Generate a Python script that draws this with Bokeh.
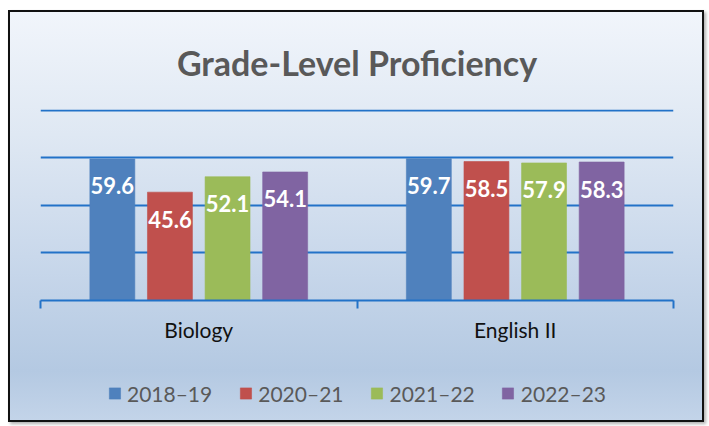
from bokeh.plotting import figure
from bokeh.models import (Range1d, LinearAxis, FixedTicker, ColumnDataSource, LabelSet,
                          Legend, LegendItem, Grid)
from bokeh.core.properties import value
from bokeh.transform import dodge
from bokeh.embed import file_html
from bokeh.resources import INLINE

# ---- data ----
subjects = ["Biology", "English II"]
years = ["2018–19", "2020–21", "2021–22", "2022–23"]
v_2018_19 = [59.6, 59.7]
v_2020_21 = [45.6, 58.5]
v_2021_22 = [52.1, 57.9]
v_2022_23 = [54.1, 58.3]
grid_ticks = [20, 40, 60, 80]

series = [v_2018_19, v_2020_21, v_2021_22, v_2022_23]
colors = ["#4f81bd", "#c0504d", "#9bbb59", "#8064a2"]
offsets = [-0.273, -0.091, 0.091, 0.273]
bar_width = 0.142
blue_line = "#2272c8"
FONT = "Lato"

centers = [i + 0.5 for i in range(len(subjects))]
data = {"pos": centers}
for i, s in enumerate(series):
    data[f"s{i}"] = s
    data[f"t{i}"] = [f"{v:.1f}" for v in s]
src = ColumnDataSource(data)

p = figure(x_range=Range1d(0, len(subjects)), y_range=Range1d(0, 80.4),
           frame_width=633, frame_height=191, output_backend="svg", toolbar_location=None,
           x_axis_location=None, y_axis_location=None,
           min_border_left=30, min_border_right=33, min_border_top=96, min_border_bottom=125)
for g in list(p.center):
    if isinstance(g, Grid):
        g.visible = False
p.background_fill_color = None
p.border_fill_color = None
p.outline_line_color = None
p.styles = {
    "margin-left": "8px",
    "margin-top": "10px",
    "width": "696px",
    "height": "412px",
    "box-sizing": "border-box",
    "overflow": "hidden",
    "background-image": "linear-gradient(to bottom, #f1f5fb 0%, #dfe8f3 30%, #c9d8eb 60%, #b4c9e2 88%, #c3d4e9 100%)",
    "border": "2px solid #111111",
    "box-shadow": "2px 2px 3px #b0b0b0",
}

p.title.text = "Grade-Level Proficiency"
p.title.align = "center"
p.title.text_font = FONT
p.title.text_font_size = "34px"
p.title.text_font_style = "bold"
p.title.text_color = "#595959"
p.title.standoff = 54

grid = Grid(dimension=1, ticker=FixedTicker(ticks=grid_ticks),
            grid_line_color=blue_line, grid_line_width=2)
p.add_layout(grid)

items = []
for i, name in enumerate(years):
    r = p.vbar(x=dodge("pos", offsets[i]), top=f"s{i}", width=bar_width,
               source=src, fill_color=colors[i], line_color=colors[i], line_alpha=0.6)
    items.append(LegendItem(label=name, renderers=[r]))
    labels = LabelSet(x=dodge("pos", offsets[i]), y=f"s{i}", text=f"t{i}",
                      source=src, text_align="center", text_baseline="middle", y_offset=-27,
                      text_color="white", text_font=value(FONT), text_font_style="bold",
                      text_font_size="22px")
    p.add_layout(labels)

edge_axis = LinearAxis(ticker=FixedTicker(ticks=list(range(len(subjects) + 1))),
                       major_label_overrides={t: "" for t in range(len(subjects) + 1)},
                       axis_line_color=blue_line, axis_line_width=2,
                       major_tick_line_color=blue_line, major_tick_line_width=2,
                       major_tick_in=0, major_tick_out=8, minor_tick_line_color=None,
                       major_label_text_font_size="1px", major_label_standoff=0)
p.add_layout(edge_axis, "below")

cat_axis = LinearAxis(ticker=FixedTicker(ticks=centers),
                      major_label_overrides={c: s for c, s in zip(centers, subjects)},
                      axis_line_color=None, major_tick_line_color=None, minor_tick_line_color=None,
                      major_tick_in=0, major_tick_out=0,
                      major_label_text_font=FONT, major_label_text_font_size="21px",
                      major_label_text_color="#111111", major_label_standoff=8)
p.add_layout(cat_axis, "below")

legend = Legend(items=items, orientation="horizontal", location="top_center",
                glyph_width=14, glyph_height=14, label_standoff=6, spacing=26,
                padding=0, margin=0, border_line_color=None, background_fill_alpha=0,
                label_text_font=FONT, label_text_font_size="21px", label_text_color="#595959")
p.add_layout(legend, "below")

open("out.html", "w").write(file_html(p, INLINE))
